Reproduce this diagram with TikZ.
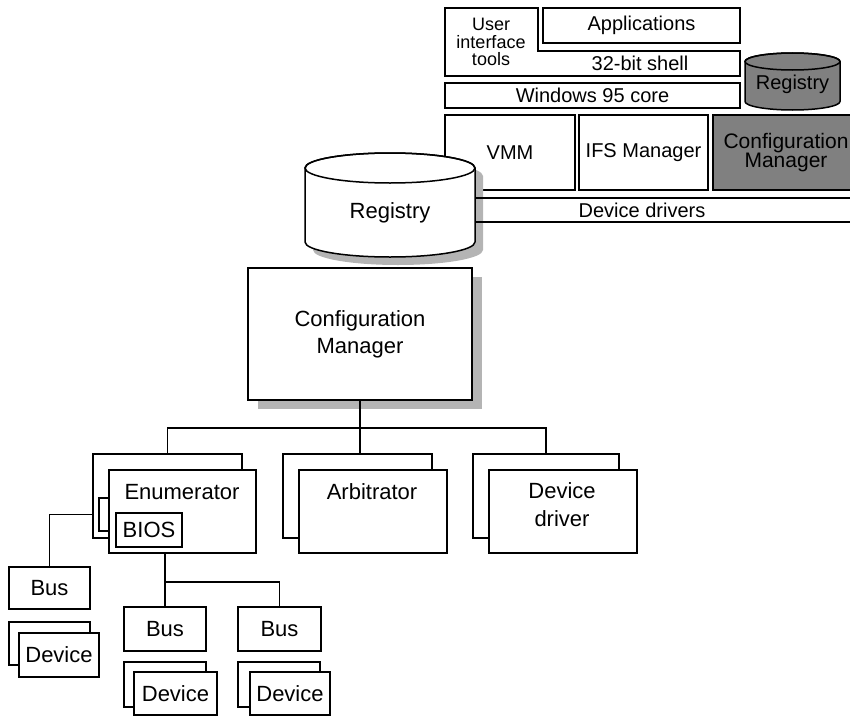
\documentclass[tikz,border=0pt]{standalone}
\usepackage{fontspec}
\setmainfont{Liberation Sans}
\usepackage{tikz}
\definecolor{midgray}{RGB}{128,128,128}
\definecolor{shadegray}{RGB}{180,180,180}

\begin{document}
\begin{tikzpicture}[x=1pt,y=-1pt,line width=1.5pt,every node/.style={font=\fontsize{22}{28}\selectfont}]
\tikzstyle{bx}=[draw,fill=white,inner sep=0pt,align=center]
\tikzstyle{sm}=[font=\fontsize{20}{17.5}\selectfont]
\useasboundingbox (0,0) rectangle (850,717);
\clip (0,0) rectangle (850,717);
% Windows 95 layers (top right)
\draw[fill=white] (445,8) -- (538,8) -- (538,51) -- (740,51) -- (740,76) -- (445,76) -- cycle;
\node[align=center,inner sep=0pt,font=\fontsize{18}{17.5}\selectfont] (uitools) at (491,42) {User\\interface\\tools};
\node[sm] (shell) at (640,63) {32-bit shell};
\node[bx,sm,minimum width=197,minimum height=35] (apps) at (641.5,25.5) {Applications};
\node[bx,sm,minimum width=295,minimum height=25] (core) at (592.5,95.5) {Windows 95 core};
\node[bx,sm,minimum width=130,minimum height=75] (vmm) at (510,152.5) {VMM};
\node[bx,sm,minimum width=129,minimum height=75] (ifs) at (643.5,152.5) {IFS Manager};
\node[bx,fill=midgray,minimum width=146,minimum height=75,font=\fontsize{21}{13}\selectfont] (cmsys) at (786,152.5) {Configuration\\Manager};
\draw[fill=midgray] (745,61.5) -- (745,101.5) arc[start angle=180,end angle=0,x radius=47.5,y radius=8.5] -- (840,61.5) arc[start angle=0,end angle=-180,x radius=47.5,y radius=8.5] -- cycle;
\draw (792.5,61.5) ellipse[x radius=47.5,y radius=8.5];
\node[sm] (regsys) at (792.5,84) {Registry};
% registry cylinder with shadow
\fill[shadegray,shift={(8,8)}] (305,168) -- (305,242) arc[start angle=180,end angle=0,x radius=85,y radius=15] -- (475,168) arc[start angle=0,end angle=-180,x radius=85,y radius=15] -- cycle;
\draw (445,198) -- (870,198) (445,222) -- (870,222);
\node[sm] (drivers) at (642,210) {Device drivers};
\draw[fill=white] (305,168) -- (305,242) arc[start angle=180,end angle=0,x radius=85,y radius=15] -- (475,168) arc[start angle=0,end angle=-180,x radius=85,y radius=15] -- cycle;
\draw (390,168) ellipse[x radius=85,y radius=15];
\node (reg) at (390,213) {Registry};
% configuration manager
\fill[shadegray] (258,277) rectangle (482,409);
\node[bx,minimum width=224,minimum height=132,font=\fontsize{22}{27}\selectfont] (cm) at (360,334) {Configuration\\Manager};
% enumerator, arbitrator, device driver
\node[bx,minimum width=149,minimum height=84] (enumbk) at (167.5,496) {};
\node[bx,minimum width=10,minimum height=33] (biosbk) at (104,514.5) {};
\node[bx,minimum width=147,minimum height=83] (enum) at (182.5,511.5) {};
\node[anchor=base] (enumtxt) at (182,499) {Enumerator};
\node[bx,minimum width=66,minimum height=34] (bios) at (149,530) {BIOS};
\node[bx,minimum width=149,minimum height=84] (arbbk) at (357.5,496) {};
\node[bx,minimum width=148,minimum height=83] (arb) at (373,511.5) {};
\node[anchor=base] (arbtxt) at (372,499) {Arbitrator};
\node[bx,minimum width=146,minimum height=84] (drvbk) at (546,496) {};
\node[bx,minimum width=148,minimum height=83] (drv) at (563,511.5) {};
\node[align=center] (drvtxt) at (562,505) {Device\\driver};
% buses and devices
\node[bx,minimum width=81,minimum height=42] (busa) at (49.5,588) {Bus};
\node[bx,minimum width=82,minimum height=44] (busb) at (165,629) {Bus};
\node[bx,minimum width=83,minimum height=44] (busc) at (279.5,629) {Bus};
\node[bx,minimum width=81,minimum height=43] (devabk) at (49.5,643.5) {};
\node[bx,minimum width=80,minimum height=44] (deva) at (59,655) {Device};
\node[bx,minimum width=82,minimum height=45] (devbbk) at (165,684.5) {};
\node[bx,minimum width=83,minimum height=43] (devb) at (175.5,693.5) {Device};
\node[bx,minimum width=82,minimum height=45] (devcbk) at (279,684.5) {};
\node[bx,minimum width=80,minimum height=43] (devc) at (290,693.5) {Device};
% connectors
\coordinate (split) at (360,428);
\coordinate (fork) at (165,582);
\draw (cm.south) -- (cm.south |- arbbk.north);
\draw (enumbk.north) |- (split) -| (drvbk.north);
\draw (biosbk.center -| enumbk.west) -| (busa.north);
\draw (busb.north |- enum.south) -- (busb.north);\draw (fork) -| (busc.north);
\end{tikzpicture}
\end{document}
